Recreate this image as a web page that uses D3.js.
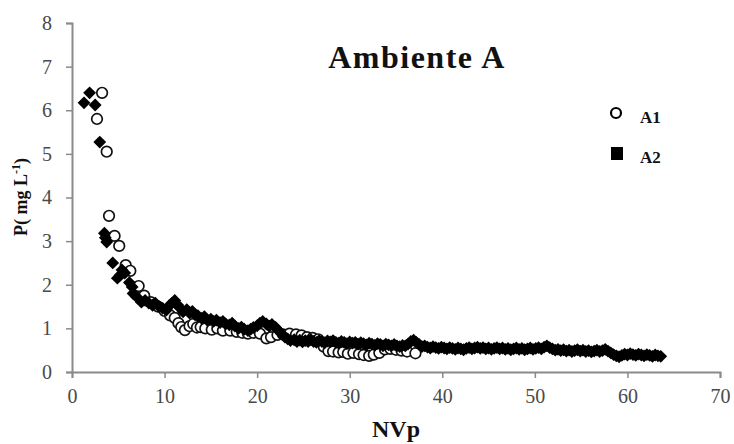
<!DOCTYPE html>
<html>
<head>
<meta charset="utf-8">
<script src="https://cdn.jsdelivr.net/npm/d3@7"></script>
<style>
  html, body { margin: 0; padding: 0; background: #fff; }
  svg { display: block; }
</style>
</head>
<body>
<svg id="chart" width="734" height="444"></svg>
<script>
// Phosphorus concentration vs. pore volumes, environment A
const chartTitle = "Ambiente A";
const xTicks = [0, 10, 20, 30, 40, 50, 60, 70];
const yTicks = [0, 1, 2, 3, 4, 5, 6, 7, 8];
const seriesNames = ["A1", "A2"];

// A1: [NVp, P]
const seriesA1 = [
  [2.7, 5.8], [3.25, 6.4], [3.75, 5.05], [4.0, 3.58], [4.6, 3.12], [5.1, 2.89],
  [5.8, 2.45], [6.3, 2.32], [7.2, 1.97], [7.8, 1.75], [8.5, 1.6], [9.3, 1.5],
  [10.0, 1.4], [10.6, 1.3], [11.1, 1.24], [11.5, 1.12], [11.8, 1.03], [12.2, 0.96],
  [12.7, 1.05], [13.1, 1.1], [13.5, 1.02], [13.9, 1.03], [14.4, 1.0], [15.1, 0.97],
  [15.7, 1.0], [16.3, 0.95], [17.1, 0.95], [17.8, 0.92], [18.4, 0.9], [19.0, 0.88],
  [19.6, 0.9], [20.3, 0.88], [21.0, 0.77], [21.5, 0.8], [22.2, 0.85], [22.8, 0.86],
  [23.5, 0.88], [24.2, 0.86], [24.8, 0.84], [25.4, 0.8], [26.0, 0.78], [26.6, 0.75],
  [27.2, 0.58], [27.7, 0.48], [28.2, 0.47], [28.8, 0.45], [29.3, 0.46], [29.8, 0.42],
  [30.4, 0.44], [31.0, 0.41], [31.5, 0.39], [32.1, 0.37], [32.6, 0.4], [33.2, 0.44],
  [33.8, 0.52], [34.4, 0.53], [35.0, 0.51], [35.6, 0.49], [36.2, 0.47], [37.1, 0.43]
];

// A2: [NVp, P]
const seriesA2 = [
  [1.3, 6.17], [1.9, 6.4], [2.5, 6.12], [3.0, 5.27], [3.5, 3.18], [3.6, 3.08],
  [3.75, 2.98], [4.4, 2.5], [4.9, 2.15], [5.2, 2.22], [5.4, 2.34], [5.7, 2.27],
  [6.2, 2.05], [6.5, 1.95], [6.6, 1.8], [7.0, 1.72], [7.5, 1.6], [7.9, 1.64],
  [8.3, 1.58], [8.7, 1.53], [9.0, 1.58], [9.4, 1.5], [9.8, 1.46], [10.2, 1.42],
  [10.5, 1.52], [10.8, 1.58], [11.1, 1.64], [11.4, 1.54], [11.7, 1.46], [12.0, 1.38],
  [12.4, 1.43], [12.7, 1.35], [13.0, 1.39], [13.3, 1.31], [13.6, 1.29], [14.0, 1.23],
  [14.3, 1.27], [14.6, 1.19], [15.0, 1.21], [15.3, 1.16], [15.6, 1.19], [16.0, 1.13],
  [16.3, 1.16], [16.6, 1.1], [17.0, 1.08], [17.3, 1.12], [17.6, 1.05], [18.0, 1.0],
  [18.3, 1.03], [18.6, 0.98], [19.0, 0.95], [19.3, 0.98], [19.6, 1.02], [20.0, 1.06],
  [20.3, 1.12], [20.6, 1.16], [21.0, 1.1], [21.3, 1.05], [21.6, 1.09], [22.0, 1.02],
  [22.3, 0.95], [22.6, 0.88], [23.0, 0.8], [23.3, 0.76], [23.6, 0.72], [24.0, 0.74],
  [24.3, 0.7], [24.6, 0.73], [24.9, 0.69], [25.2, 0.72], [25.5, 0.7], [25.8, 0.74],
  [26.1, 0.7], [26.4, 0.68], [26.7, 0.72], [27.0, 0.7], [27.3, 0.67], [27.6, 0.71],
  [27.9, 0.69], [28.2, 0.72], [28.5, 0.68], [28.8, 0.66], [29.1, 0.7], [29.4, 0.68],
  [29.7, 0.65], [30.0, 0.69], [30.3, 0.66], [30.6, 0.68], [30.9, 0.64], [31.2, 0.67],
  [31.5, 0.65], [31.8, 0.62], [32.1, 0.66], [32.4, 0.64], [32.7, 0.61], [33.0, 0.65],
  [33.3, 0.63], [33.6, 0.6], [33.9, 0.64], [34.2, 0.62], [34.5, 0.6], [34.8, 0.63],
  [35.1, 0.6], [35.4, 0.58], [35.7, 0.61], [36.0, 0.6], [36.3, 0.64], [36.6, 0.7],
  [36.9, 0.73], [37.2, 0.68], [37.5, 0.63], [37.8, 0.58], [38.1, 0.6], [38.4, 0.57],
  [38.7, 0.55], [39.0, 0.58], [39.3, 0.56], [39.6, 0.54], [39.9, 0.57], [40.2, 0.55],
  [40.5, 0.53], [40.8, 0.56], [41.1, 0.54], [41.4, 0.52], [41.7, 0.55], [42.0, 0.53],
  [42.3, 0.51], [42.6, 0.54], [42.9, 0.56], [43.2, 0.53], [43.5, 0.55], [43.8, 0.57],
  [44.1, 0.54], [44.4, 0.56], [44.7, 0.53], [45.0, 0.55], [45.3, 0.52], [45.6, 0.54],
  [45.9, 0.56], [46.2, 0.53], [46.5, 0.55], [46.8, 0.52], [47.1, 0.54], [47.4, 0.51],
  [47.7, 0.53], [48.0, 0.55], [48.3, 0.52], [48.6, 0.54], [48.9, 0.51], [49.2, 0.53],
  [49.5, 0.55], [49.8, 0.52], [50.1, 0.54], [50.4, 0.56], [50.7, 0.53], [51.0, 0.57],
  [51.3, 0.6], [51.6, 0.56], [51.9, 0.53], [52.2, 0.5], [52.5, 0.52], [52.8, 0.49],
  [53.1, 0.51], [53.4, 0.48], [53.7, 0.5], [54.0, 0.47], [54.3, 0.49], [54.6, 0.51],
  [54.9, 0.48], [55.2, 0.5], [55.5, 0.47], [55.8, 0.49], [56.1, 0.46], [56.4, 0.48],
  [56.7, 0.5], [57.0, 0.47], [57.3, 0.49], [57.6, 0.52], [57.9, 0.48], [58.2, 0.44],
  [58.5, 0.4], [58.8, 0.37], [59.1, 0.35], [59.4, 0.38], [59.7, 0.41], [60.0, 0.39],
  [60.3, 0.42], [60.6, 0.4], [60.9, 0.38], [61.2, 0.41], [61.5, 0.39], [61.8, 0.37],
  [62.1, 0.4], [62.4, 0.38], [62.7, 0.36], [63.0, 0.39], [63.3, 0.37], [63.6, 0.36]
];

const svg = d3.select("#chart");
const margin = { left: 72, right: 14, top: 23, bottom: 72 };
const width = 734, height = 444;

const x = d3.scaleLinear().domain([0, 70]).range([margin.left, width - margin.right]);
const y = d3.scaleLinear().domain([0, 8]).range([height - margin.bottom, margin.top]);

const axisColor = "#8a8a8a";
const labelColor = "#4a4a4a";
const serif = "'Liberation Serif', 'Times New Roman', serif";

// X axis
const xAxis = svg.append("g")
  .attr("transform", `translate(0,${y(0)})`)
  .call(d3.axisBottom(x).tickValues(xTicks).tickSize(6).tickPadding(11).tickFormat(d3.format("d")));
// Y axis
const yAxis = svg.append("g")
  .attr("transform", `translate(${x(0)},0)`)
  .call(d3.axisLeft(y).tickValues(yTicks).tickSize(6).tickPadding(14).tickFormat(d3.format("d")));

[xAxis, yAxis].forEach(g => {
  g.select(".domain").attr("stroke", axisColor).attr("stroke-width", 2);
  g.selectAll(".tick line").attr("stroke", axisColor).attr("stroke-width", 1.5);
  g.selectAll(".tick text")
    .attr("fill", labelColor)
    .style("font-family", serif)
    .style("font-size", "20px");
});

// Markers: A1 open circles under A2 filled diamonds
svg.append("g")
  .selectAll("circle")
  .data(seriesA1)
  .join("circle")
  .attr("cx", d => x(d[0]))
  .attr("cy", d => y(d[1]))
  .attr("r", 5.3)
  .attr("fill", "#fff")
  .attr("stroke", "#111")
  .attr("stroke-width", 1.7);

const diamond = d3.symbol().type(d3.symbolDiamond2).size(105);
svg.append("g")
  .selectAll("path")
  .data(seriesA2)
  .join("path")
  .attr("transform", d => `translate(${x(d[0])},${y(d[1])})`)
  .attr("d", diamond)
  .attr("fill", "#000");

// Title
svg.append("text")
  .attr("x", 417).attr("y", 68)
  .attr("text-anchor", "middle")
  .style("font-family", serif)
  .style("font-weight", "bold")
  .style("font-size", "32px")
  .style("letter-spacing", "1.5px")
  .attr("fill", "#111")
  .text(chartTitle);

// Legend
const legend = svg.append("g");
legend.append("circle")
  .attr("cx", 616).attr("cy", 113).attr("r", 5)
  .attr("fill", "#fff").attr("stroke", "#000").attr("stroke-width", 2.2);
legend.append("rect")
  .attr("x", 611).attr("y", 147).attr("width", 12).attr("height", 13)
  .attr("fill", "#000");
legend.selectAll("text")
  .data(seriesNames)
  .join("text")
  .attr("x", 640)
  .attr("y", (d, i) => 123 + i * 40)
  .style("font-family", serif)
  .style("font-weight", "bold")
  .style("font-size", "17px")
  .attr("fill", "#111")
  .text(d => d);

// Axis titles
svg.append("text")
  .attr("x", x(35)).attr("y", 437)
  .attr("text-anchor", "middle")
  .style("font-family", serif)
  .style("font-weight", "bold")
  .style("font-size", "24px")
  .attr("fill", "#111")
  .text("NVp");

const yTitle = svg.append("text")
  .attr("transform", "translate(27,197) rotate(-90)")
  .attr("text-anchor", "middle")
  .style("font-family", serif)
  .style("font-weight", "bold")
  .style("font-size", "18px")
  .attr("fill", "#111");
yTitle.append("tspan").text("P( mg L");
yTitle.append("tspan").attr("dy", -7).style("font-size", "12px").text("-1");
yTitle.append("tspan").attr("dy", 7).text(")");
</script>
</body>
</html>
